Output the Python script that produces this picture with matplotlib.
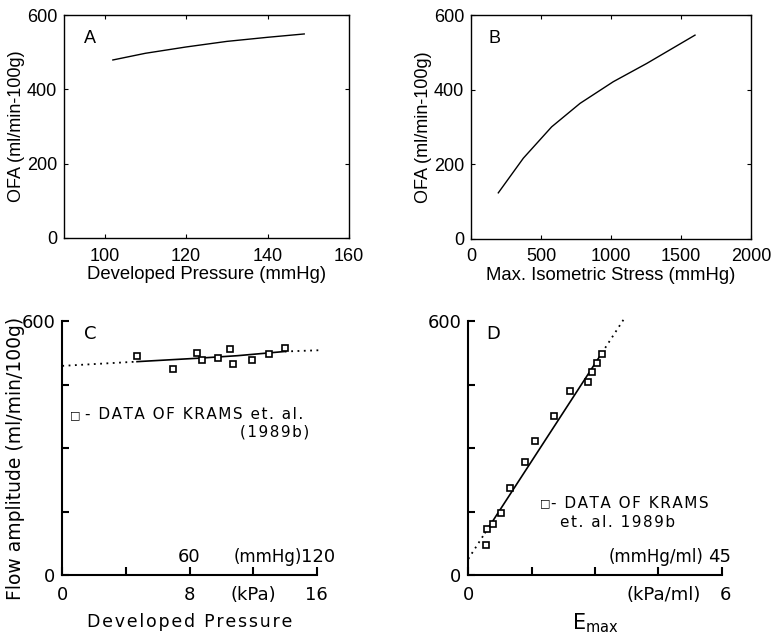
import matplotlib
matplotlib.use("Agg")
import matplotlib.pyplot as plt

# Panel A: OFA vs developed pressure (model)
a_pressure = [102, 110, 120, 130, 140, 149]
a_ofa = [479, 497, 514, 529, 540, 549]

# Panel B: OFA vs max isometric stress (model)
b_stress = [195, 374, 576, 779, 1016, 1255, 1600]
b_ofa = [123, 216, 300, 363, 421, 470, 546]

# Panel C: flow amplitude vs developed pressure (kPa)
c_data_x = [4.68, 6.98, 8.45, 8.77, 9.81, 10.55, 10.72, 11.91, 13.0, 14.0]
c_data_y = [517, 486, 524, 509, 512, 535, 498, 509, 521, 536]
c_model_x = [0.0, 4.7, 8.5, 11.0, 14.0, 16.2]
c_model_y = [494, 504, 512, 518, 528, 531]

# Panel D: flow amplitude vs Emax (kPa/ml)
d_data_x = [0.41, 0.45, 0.59, 0.78, 0.99, 1.34, 1.59, 2.02, 2.41, 2.84, 2.92, 3.04, 3.16]
d_data_y = [71, 109, 121, 146, 205, 268, 317, 376, 435, 457, 480, 500, 521]
d_model_x = [0.0, 0.40, 3.16, 3.72]
d_model_y = [38, 100, 524, 610]

W, H = 773, 640
fig = plt.figure(figsize=(W / 100, H / 100), dpi=100)


def box(l, r, t, b):
    return [l / W, (H - b) / H, (r - l) / W, (b - t) / H]


def spaced(s, sep="\u200a"):
    """Open up letter spacing by putting a hair space between characters."""
    return sep.join(s)


TOPFONT = "Liberation Sans"
BOTFONT = "DejaVu Sans"

# ---------- top row ----------
axA = fig.add_axes(box(64, 349, 15, 238))
axB = fig.add_axes(box(471, 751, 15, 238.7))
for ax in (axA, axB):
    ax.set_ylim(0, 600)
    ax.set_yticks([0, 200, 400, 600])
    ax.tick_params(direction="in", top=True, right=True, length=3, width=0.8,
                   labelsize=13, pad=5)
    ax.tick_params(axis="x", pad=7)
    for s in ax.spines.values():
        s.set_linewidth(1.0)
    ax.set_ylabel("OFA (ml/min-100g)", fontsize=13, family=TOPFONT, labelpad=1)

axA.set_xlim(90, 160)
axA.set_xticks([100, 120, 140, 160])
axA.plot(a_pressure, a_ofa, color="black", lw=1.0)
axA.set_xlabel("Developed Pressure (mmHg)", fontsize=13.3, family=TOPFONT, labelpad=1)
axA.text(96.4, 538, "A", fontsize=13, family=TOPFONT, ha="center", va="center")

axB.set_xlim(0, 2000)
axB.set_xticks([0, 500, 1000, 1500, 2000])
axB.plot(b_stress, b_ofa, color="black", lw=1.0)
axB.set_xlabel("Max. Isometric Stress (mmHg)", fontsize=13.3, family=TOPFONT, labelpad=1)
axB.text(171, 538, "B", fontsize=13, family=TOPFONT, ha="center", va="center")
for ax in (axA, axB):
    for lab in ax.get_xticklabels() + ax.get_yticklabels():
        lab.set_family(TOPFONT)

# ---------- bottom row ----------
axC = fig.add_axes(box(62.3, 316.7, 321, 575))
axD = fig.add_axes(box(468.3, 721.7, 321, 575))
for ax in (axC, axD):
    ax.set_ylim(0, 600)
    ax.spines["top"].set_visible(False)
    ax.spines["right"].set_visible(False)
    for s in ("left", "bottom"):
        ax.spines[s].set_linewidth(1.5)
    ax.set_yticks([0, 150, 300, 450, 600])
    ax.set_yticklabels(["0", "", "", "", "600"])
    ax.tick_params(axis="y", direction="in", length=5, width=1.5, labelsize=13, pad=5)
    ax.tick_params(axis="x", direction="in", length=6, width=1.5, labelbottom=False)
    for lab in ax.get_yticklabels():
        lab.set_family(BOTFONT)


def under(ax, x, s, size=13):
    ax.annotate(s, xy=(x, 0), xytext=(0, -14.5), textcoords="offset points",
                ha="center", va="center", fontsize=size, family=BOTFONT,
                annotation_clip=False)


def over(ax, x, s, size=13):
    ax.annotate(s, xy=(x, 0), xytext=(0, 13), textcoords="offset points",
                ha="center", va="center", fontsize=size, family=BOTFONT,
                annotation_clip=False)


DOT = (0, (1, 2.5))
MARK = dict(ls="none", marker="s", ms=4.8, mfc="white", mec="black", mew=1.2, clip_on=False)
LEG = dict(fontsize=11, family=BOTFONT, va="center")

# Panel C
axC.set_xlim(0, 16)
axC.set_xticks([0, 4, 8, 12, 16])
axC.plot(c_model_x[:2], c_model_y[:2], color="black", lw=1.3, ls=DOT, clip_on=False)
axC.plot(c_model_x[1:5], c_model_y[1:5], color="black", lw=1.2, clip_on=False)
axC.plot(c_model_x[4:], c_model_y[4:], color="black", lw=1.3, ls=DOT, clip_on=False)
axC.plot(c_data_x, c_data_y, **MARK)
over(axC, 8, "60")
over(axC, 12.95, "(mmHg)", size=12)
over(axC, 16.1, "120")
under(axC, 0, "0")
under(axC, 8, "8")
under(axC, 12.0, "(kPa)")
under(axC, 16, "16")
axC.text(1.75, 570, "C", fontsize=13, family=BOTFONT, ha="center", va="center")
axC.text(0.8, 378, "\u25a1", fontsize=8, family=BOTFONT, ha="center", va="center")
axC.text(1.42, 378, spaced("- DATA OF KRAMS et. al."), ha="left", **LEG)
axC.text(15.5, 338, spaced("(1989b)"), ha="right", **LEG)
axC.set_ylabel("Flow amplitude (ml/min/100g)", fontsize=13.5, family=BOTFONT)
axC.yaxis.set_label_coords(-0.145, 0.457)
axC.annotate(spaced("Developed Pressure"), xy=(8, 0), xytext=(0, -34),
             textcoords="offset points", ha="center", va="center", fontsize=12.5,
             family=BOTFONT, annotation_clip=False)

# Panel D
axD.set_xlim(0, 6)
axD.set_xticks([0, 1.5, 3, 4.5, 6])
axD.plot(d_model_x[:2], d_model_y[:2], color="black", lw=1.3, ls=DOT, clip_on=False)
axD.plot(d_model_x[1:3], d_model_y[1:3], color="black", lw=1.2, clip_on=False)
axD.plot(d_model_x[2:], d_model_y[2:], color="black", lw=1.3, ls=DOT, clip_on=False)
axD.plot(d_data_x, d_data_y, **MARK)
over(axD, 4.45, "(mmHg/ml)", size=12)
over(axD, 5.94, "45")
under(axD, 0, "0")
under(axD, 4.62, "(kPa/ml)")
under(axD, 6.08, "6")
axD.text(0.58, 570, "D", fontsize=13, family=BOTFONT, ha="center", va="center")
axD.text(1.82, 169, "\u25a1", fontsize=8, family=BOTFONT, ha="center", va="center")
axD.text(1.97, 169, spaced("- DATA OF KRAMS"), ha="left", **LEG)
axD.text(3.54, 124.5, spaced("et. al. 1989b"), ha="center", **LEG)
axD.annotate(r"E$_{\mathrm{max}}$", xy=(3.0, 0), xytext=(0, -35), textcoords="offset points",
             ha="center", va="center", fontsize=15, family=BOTFONT, annotation_clip=False)

fig.savefig("out.png", dpi=100, facecolor="white")
